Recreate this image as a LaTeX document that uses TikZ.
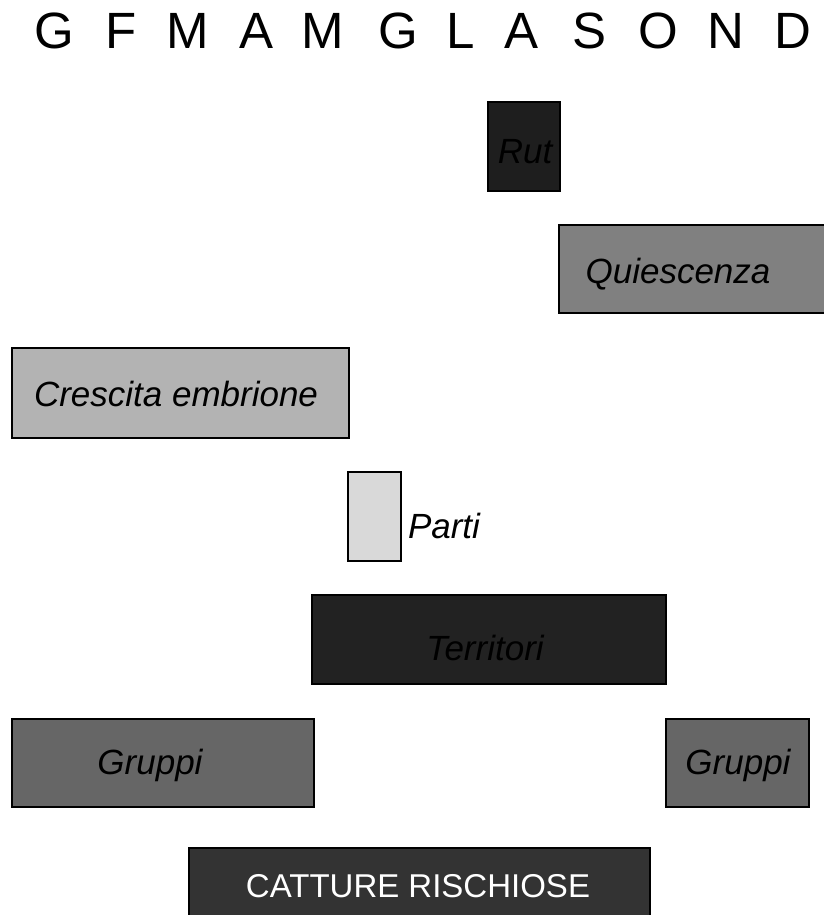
\documentclass[tikz,border=0pt]{standalone}
\usepackage{fontspec}
\setmainfont{Liberation Sans}
\definecolor{rutfill}{HTML}{1E1E1E}
\definecolor{quiescfill}{HTML}{808080}
\definecolor{crescfill}{HTML}{B3B3B3}
\definecolor{partifill}{HTML}{D9D9D9}
\definecolor{terrfill}{HTML}{222222}
\definecolor{grpfill}{HTML}{666666}
\definecolor{cattfill}{HTML}{333333}
\begin{document}
\begin{tikzpicture}[x=1pt,y=-1pt,
  bar/.style={draw=black, line width=1.3pt, rectangle, inner sep=0pt},
  lbl/.style={anchor=base, inner sep=0pt, text=black,
    font=\fontsize{35}{40}\selectfont\itshape},
  month/.style={anchor=base, inner sep=0pt,
    font=\fontsize{51}{60}\selectfont}]
\useasboundingbox (0,0) rectangle (823,915);

% month initials
\foreach \m/\x [count=\i] in {G/54,F/121,M/188,A/257,M/323,G/398,L/461,A/522,S/590,O/658,N/726,D/793}
  \node[month] (m\i) at (\x,49) {\m};

% activity bars
\node[bar, fill=rutfill,    minimum width=72pt,  minimum height=89pt] (rut)    at (524,146.5) {};
\node[bar, fill=quiescfill, minimum width=281pt, minimum height=88pt] (quiesc) at (699.5,269) {};
\node[bar, fill=crescfill,  minimum width=337pt, minimum height=90pt] (cresc)  at (180.5,393) {};
\node[bar, fill=partifill,  minimum width=53pt,  minimum height=89pt] (parti)  at (374.5,516.5) {};
\node[bar, fill=terrfill,   minimum width=354pt, minimum height=89pt] (terr)   at (489,639.5) {};
\node[bar, fill=grpfill,    minimum width=302pt, minimum height=88pt] (grpA)   at (163,763) {};
\node[bar, fill=grpfill,    minimum width=143pt, minimum height=88pt] (grpB)   at (737.5,763) {};
\node[bar, fill=cattfill,   minimum width=461pt, minimum height=92pt] (catt)   at (419.5,894) {};

% labels
\node[lbl] (lrut)    at (525,163) {Rut};
\node[lbl] (lquiesc) at (678,283) {Quiescenza};
\node[lbl] (lcresc)  at (176,406) {Crescita embrione};
\node[lbl] (lparti)  at (444,538) {Parti};
\node[lbl] (lterr)   at (485,660) {Territori};
\node[lbl] (lgrpA)   at (150,774) {Gruppi};
\node[lbl] (lgrpB)   at (738,774) {Gruppi};
\node[anchor=base, inner sep=0pt, text=white,
  font=\fontsize{33}{40}\selectfont] (lcatt) at (418,897) {CATTURE RISCHIOSE};
\end{tikzpicture}
\end{document}
